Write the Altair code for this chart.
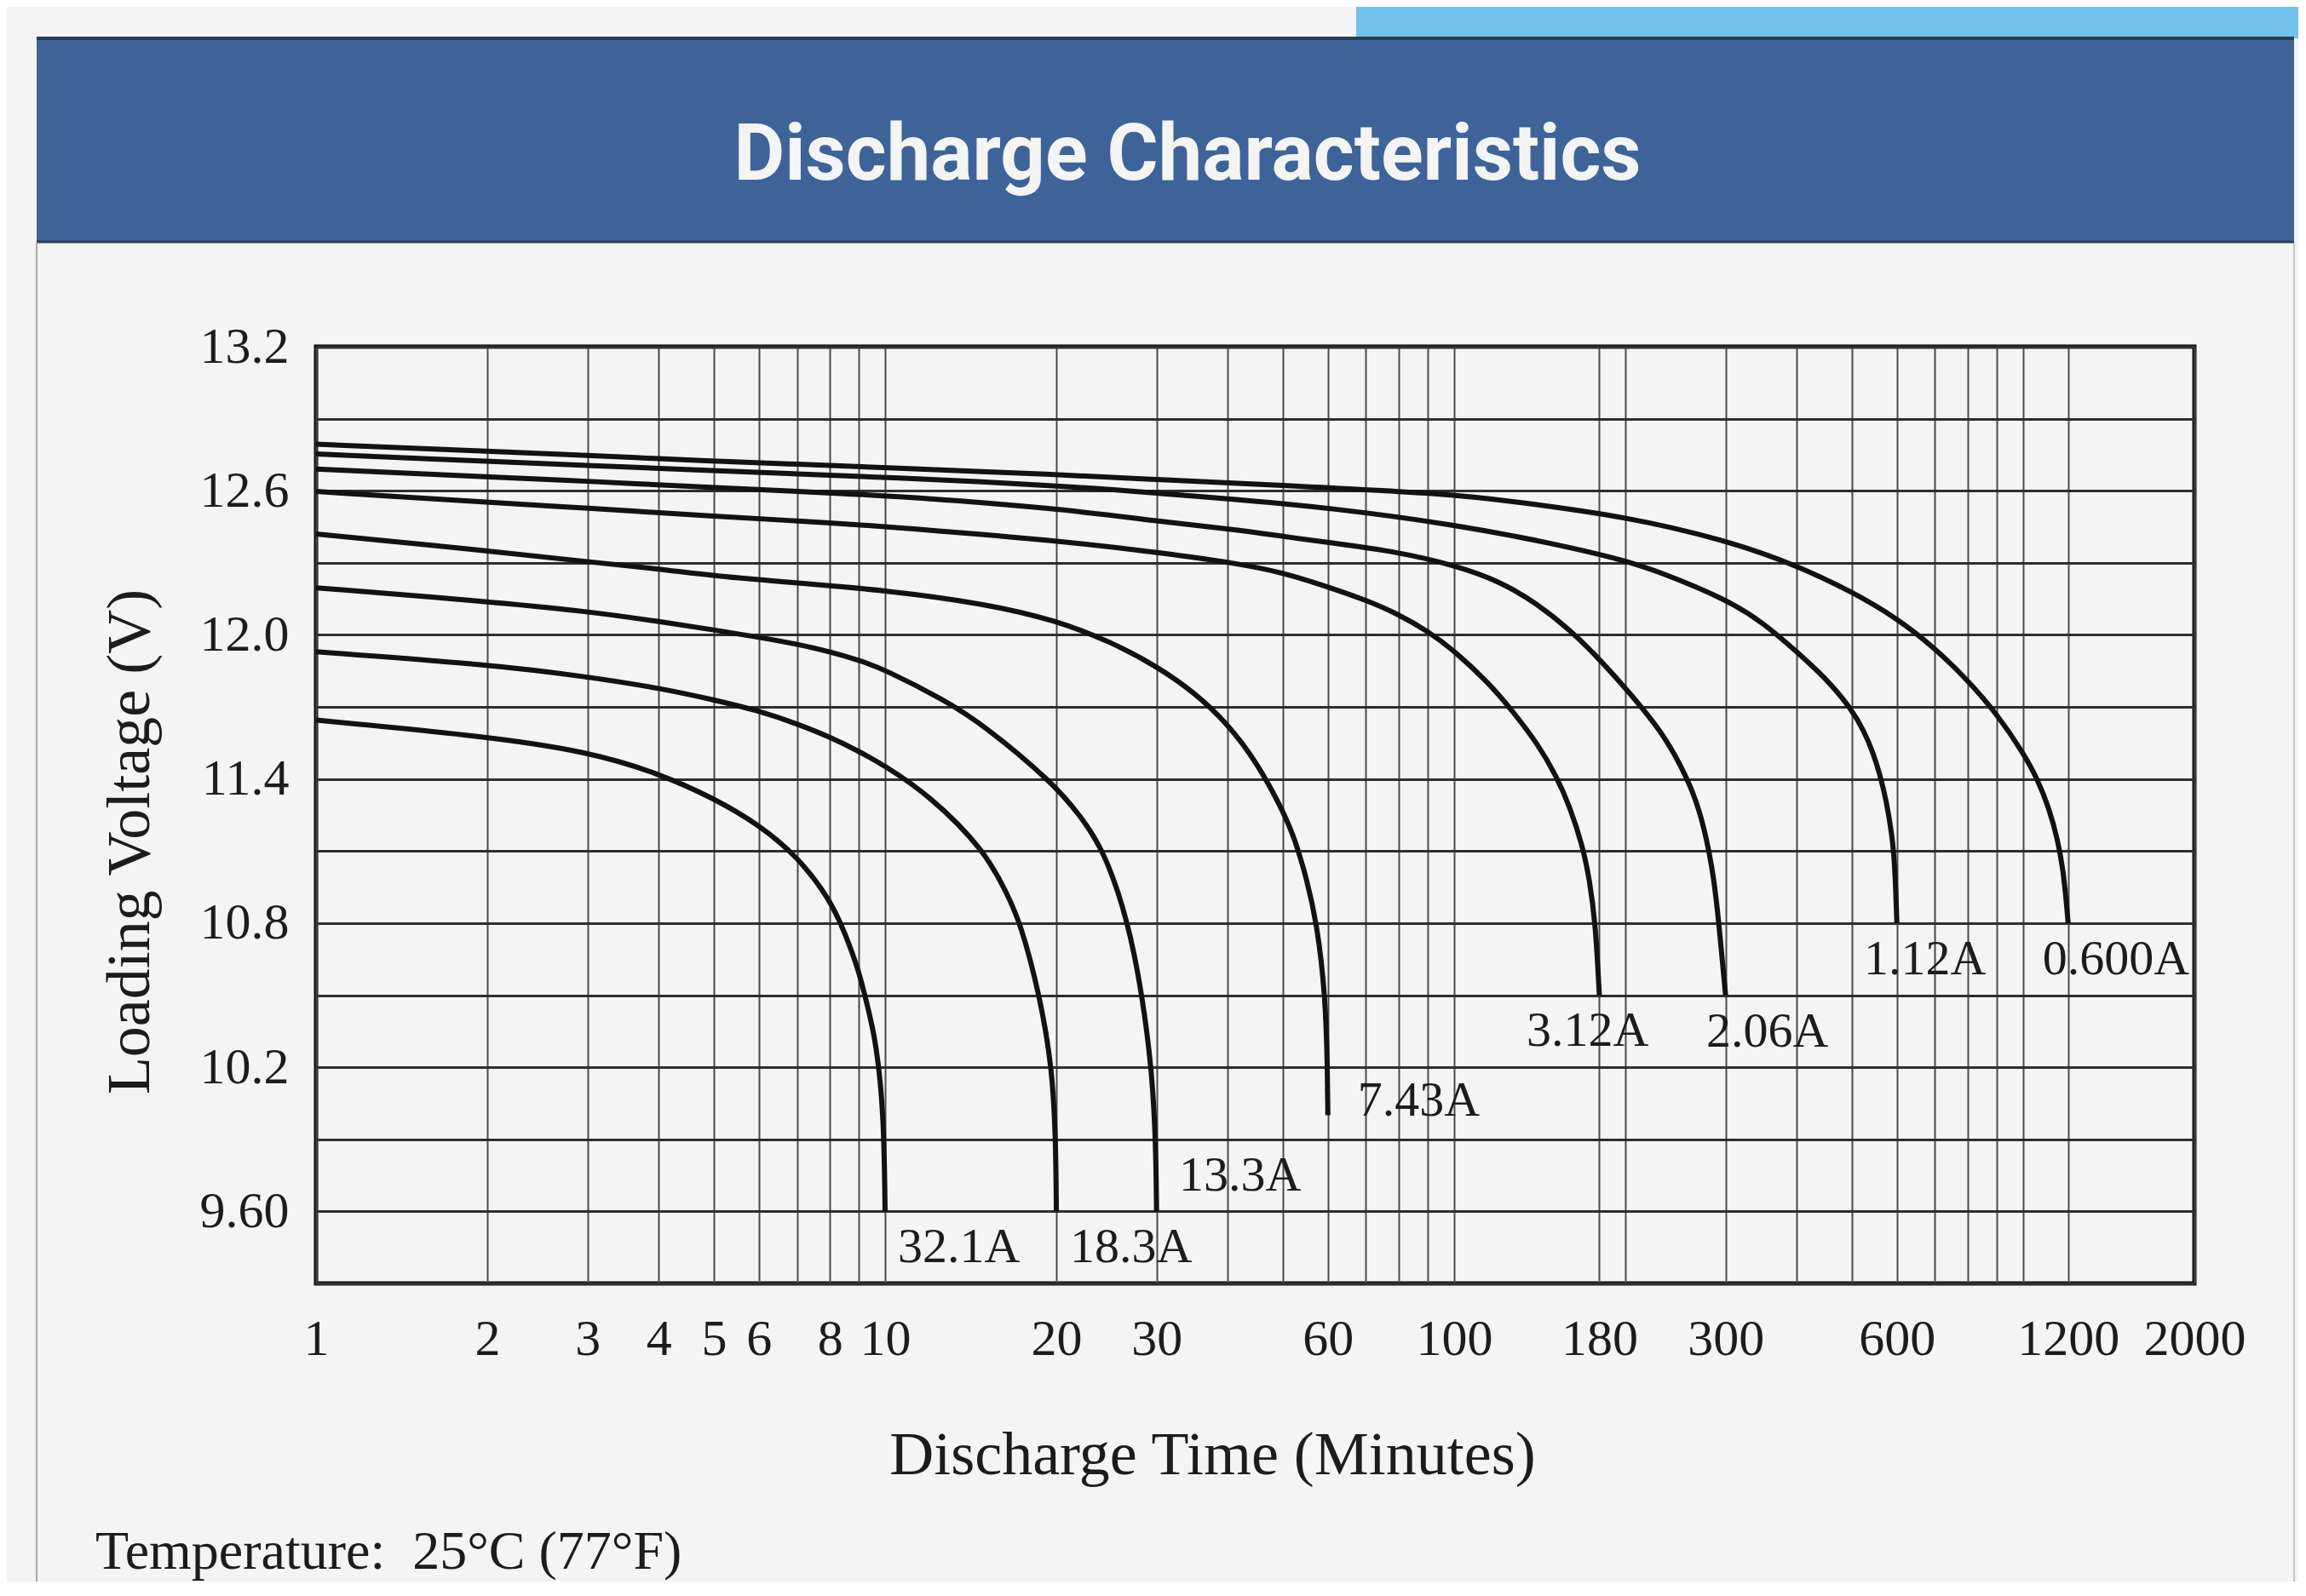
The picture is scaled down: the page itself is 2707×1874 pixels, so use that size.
import json
import altair as alt
import pandas as pd

# ---------------- data ----------------
series_names = ["32.1A", "18.3A", "13.3A", "7.43A", "3.12A", "2.06A", "1.12A", "0.600A"]

t_32_1 = [1, 2, 3, 4, 5, 6, 7, 8, 8.5, 9, 9.3, 9.64, 9.95, 10]
v_32_1 = [11.645, 11.577, 11.514, 11.424, 11.32, 11.21, 11.08, 10.9, 10.76, 10.6, 10.46, 10.31,
          10.01, 9.6]

t_18_3 = [1, 2, 3, 4, 5, 6, 7, 8, 9, 10, 12, 15, 16.4, 17.3, 18.7, 19.66, 19.95, 20]
v_18_3 = [11.93, 11.877, 11.826, 11.779, 11.73, 11.684, 11.63, 11.575, 11.515, 11.455, 11.33,
          11.1, 10.92, 10.8, 10.5, 10.2, 9.9, 9.6]

t_13_3 = [1, 2, 3, 4, 5, 6, 7, 8, 9, 10, 12.7, 15, 19.6, 22, 24.3, 26.8, 28.3, 29.4, 29.9, 30]
v_13_3 = [12.196, 12.139, 12.098, 12.056, 12.021, 11.99, 11.962, 11.93, 11.895, 11.855, 11.73,
          11.62, 11.39, 11.25, 11.1, 10.8, 10.5, 10.2, 9.9, 9.6]

t_7_43 = [1, 2, 3, 4, 5, 7, 10, 15, 20, 25, 30, 35, 40, 45, 50, 52.5, 55, 57.4, 59.4, 59.9, 60]
v_7_43 = [12.42, 12.351, 12.304, 12.275, 12.245, 12.216, 12.186, 12.13, 12.06, 11.97, 11.87, 11.76,
          11.63, 11.47, 11.27, 11.15, 10.99, 10.8, 10.5, 10.2, 10.0]

t_3_12 = [1, 2, 3, 5, 7, 10, 20, 31, 41, 50, 60, 70, 80, 90, 100, 115, 126, 140, 151.5, 160,
          168.3, 173, 177.2, 180]
v_3_12 = [12.597, 12.552, 12.528, 12.493, 12.475, 12.452, 12.393, 12.34, 12.30, 12.26, 12.2, 12.145,
          12.085, 12.015, 11.935, 11.80, 11.69, 11.55, 11.41, 11.28, 11.12, 10.98, 10.8, 10.5]

t_2_06 = [1, 2, 3, 5, 7, 10, 20, 31, 41, 50, 60, 80, 100, 120, 140, 160, 180, 205, 231, 250, 267,
          278, 286, 292, 297, 300]
v_2_06 = [12.69, 12.658, 12.64, 12.613, 12.597, 12.581, 12.528, 12.469, 12.44, 12.41, 12.385,
          12.345, 12.29, 12.225, 12.13, 12.02, 11.9, 11.75, 11.6, 11.46, 11.31, 11.15, 10.99, 10.8,
          10.61, 10.5]

t_1_12 = [1, 2, 3, 5, 7, 10, 20, 31, 41, 60, 100, 150, 200, 231, 300, 350, 400, 450, 500, 525,
          545, 560, 575, 588, 595, 600]
v_1_12 = [12.753, 12.723, 12.705, 12.684, 12.67, 12.656, 12.623, 12.587, 12.565, 12.53, 12.46,
          12.38, 12.31, 12.26, 12.15, 12.05, 11.93, 11.82, 11.69, 11.6, 11.51, 11.42, 11.31, 11.17,
          11.05, 10.8]

t_0_600 = [1, 2, 3, 5, 7, 10, 20, 31, 50, 100, 132, 200, 300, 400, 500, 600, 700, 800, 900, 1000,
           1060, 1110, 1150, 1180, 1200]
v_0_600 = [12.794, 12.764, 12.747, 12.723, 12.711, 12.696, 12.668, 12.645, 12.622, 12.587, 12.55,
           12.493, 12.395, 12.29, 12.18, 12.07, 11.945, 11.81, 11.67, 11.51, 11.40, 11.28, 11.15,
           11.0, 10.8]

# curve labels (anchor = left edge / vertical middle, in data units)
label_names = ["32.1A", "18.3A", "13.3A", "7.43A", "3.12A", "2.06A", "1.12A", "0.600A"]
label_times = [10.53, 21.13, 32.86, 67.7, 134.1, 277.4, 525, 1082]
label_volts = [9.448, 9.448, 9.745, 10.057, 10.35, 10.347, 10.648, 10.648]

# axes
x_grid_values = [1, 2, 3, 4, 5, 6, 7, 8, 9, 10, 20, 30, 40, 50, 60, 70, 80, 90, 100, 180,
                 200, 300, 400, 500, 600, 700, 800, 900, 1000, 1200, 2000]
x_label_values = [1, 2, 3, 4, 5, 6, 8, 10, 20, 30, 60, 100, 180, 300, 600, 1200, 2000]
y_grid_values = [9.3, 9.6, 9.9, 10.2, 10.5, 10.8, 11.1, 11.4, 11.7, 12.0, 12.3, 12.6, 12.9, 13.2]
y_label_values = [9.6, 10.2, 10.8, 11.4, 12.0, 12.6, 13.2]
y_label_text = ["9.60", "10.2", "10.8", "11.4", "12.0", "12.6", "13.2"]

title_text = "Discharge Characteristics"
x_title = "Discharge Time (Minutes)"
y_title = "Loading Voltage (V)"
note_text = "Temperature:\u00a0\u00a025\u00b0C (77\u00b0F)"

# ---------------- build tables ----------------
all_t = [t_32_1, t_18_3, t_13_3, t_7_43, t_3_12, t_2_06, t_1_12, t_0_600]
all_v = [v_32_1, v_18_3, v_13_3, v_7_43, v_3_12, v_2_06, v_1_12, v_0_600]
rows = []
for name, ts, vs in zip(series_names, all_t, all_v):
    for i, (t, v) in enumerate(zip(ts, vs)):
        rows.append({"series": name, "time": t, "volt": v, "order": i})
curves = pd.DataFrame(rows)
labels = pd.DataFrame({"name": label_names, "time": label_times, "volt": label_volts})
one = pd.DataFrame({"k": [0]})

W, H = 2205, 1100
SERIF = "Liberation Serif"
INK = "#1c1c1c"

x_scale = alt.Scale(type="log", domain=[1, 2000], nice=False)
y_scale = alt.Scale(domain=[9.3, 13.2], nice=False, zero=False)

x_expr = (f"indexof({json.dumps(x_label_values)}, datum.value) >= 0 ? "
          f"toString(datum.value) : ''")
y_expr = (f"indexof({json.dumps(y_label_values)}, datum.value) >= 0 ? "
          f"{json.dumps(y_label_text)}[indexof({json.dumps(y_label_values)}, datum.value)] : ''")

x_axis = alt.Axis(values=x_grid_values, grid=True, gridColor="#4a4a4a", gridWidth=2,
                  ticks=False, tickSize=0, domain=False, labelExpr=x_expr,
                  labelFont=SERIF, labelFontSize=60, labelColor=INK, labelPadding=36,
                  labelOverlap=False, labelFlush=False, labelBound=False,
                  title=x_title, titleFont=SERIF, titleFontSize=72, titleFontWeight="normal",
                  titleColor=INK, titleX=1052, titleY=223, titleAlign="center",
                  titleBaseline="alphabetic")
y_axis = alt.Axis(values=y_grid_values, grid=True, gridColor="#2e2e2e", gridWidth=3,
                  ticks=False, tickSize=0, domain=False, labelExpr=y_expr,
                  labelFont=SERIF, labelFontSize=60, labelColor=INK, labelPadding=32,
                  labelOverlap=False, labelFlush=False, labelBound=False,
                  title=y_title, titleFont=SERIF, titleFontSize=72, titleFontWeight="normal",
                  titleColor=INK, titleX=-219, titleY=581, titleAngle=270,
                  titleAlign="center", titleBaseline="middle")

lines = alt.Chart(curves).mark_line(interpolate="basis", color="#121212", strokeWidth=6,
                                    strokeJoin="round").encode(
    x=alt.X("time:Q", scale=x_scale, axis=x_axis),
    y=alt.Y("volt:Q", scale=y_scale, axis=y_axis),
    detail="series:N",
    order="order:Q",
)

curve_labels = alt.Chart(labels).mark_text(align="left", baseline="middle", font=SERIF,
                                           fontSize=58, color=INK).encode(
    x=alt.X("time:Q", scale=x_scale, axis=x_axis),
    y=alt.Y("volt:Q", scale=y_scale, axis=y_axis),
    text="name:N",
)

# ---------------- decoration (page furniture) ----------------
light_block = alt.Chart(one).mark_rect(color="#74c1ec").encode(
    x=alt.value(1221), x2=alt.value(2330), y=alt.value(-400), y2=alt.value(-362))
band = alt.Chart(one).mark_rect(color="#3d6399").encode(
    x=alt.value(-328), x2=alt.value(2322), y=alt.value(-361), y2=alt.value(-124))
band_top = alt.Chart(one).mark_rule(color="#2a3c52", strokeWidth=4).encode(
    x=alt.value(-328), x2=alt.value(2322), y=alt.value(-362))
band_bottom = alt.Chart(one).mark_rule(color="#2a3c52", strokeWidth=3).encode(
    x=alt.value(-328), x2=alt.value(2322), y=alt.value(-123))
card_left = alt.Chart(one).mark_rule(color="#a9a9a9", strokeWidth=2).encode(
    x=alt.value(-328), y=alt.value(-122), y2=alt.value(1460))
card_right = alt.Chart(one).mark_rule(color="#c4c4c4", strokeWidth=2).encode(
    x=alt.value(2322), y=alt.value(-122), y2=alt.value(1460))
title = alt.Chart(one).mark_text(text=title_text, font="Roboto", fontWeight="bold", fontSize=92,
                                 color="#f4f4f4", align="center", baseline="alphabetic").encode(
    x=alt.value(1023), y=alt.value(-196))
note = alt.Chart(one).mark_text(text=note_text, font=SERIF, fontSize=64, color=INK,
                                align="left", baseline="alphabetic").encode(
    x=alt.value(-259), y=alt.value(1435))

chart = alt.layer(
    light_block, band, band_top, band_bottom, card_left, card_right, title, note,
    lines, curve_labels,
).properties(
    width=W, height=H,
    autosize=alt.AutoSizeParams(type="none"),
    padding={"left": 363, "top": 399, "right": 122, "bottom": 350},
).configure(
    background="#f4f4f4",
).configure_view(
    stroke="#111111", strokeWidth=5,
)

chart.save("out.html", embed_options={"renderer": "svg", "actions": False})
